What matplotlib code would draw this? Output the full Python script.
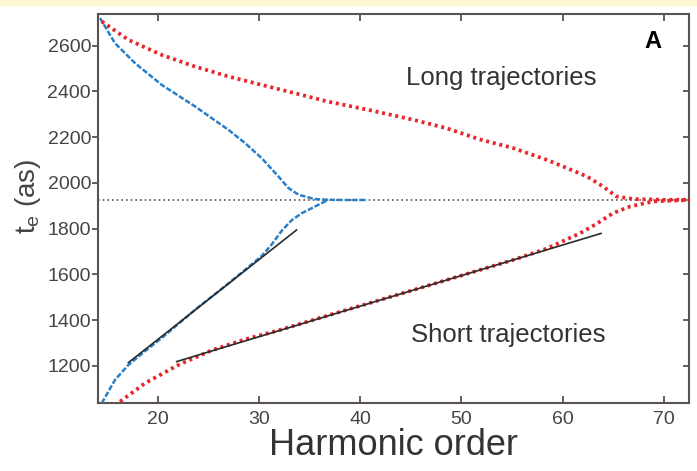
import matplotlib
matplotlib.use("Agg")
import matplotlib.pyplot as plt
from matplotlib.patches import Rectangle

plt.rcParams['font.family'] = ['Liberation Sans', 'DejaVu Sans']
plt.rcParams['mathtext.fontset'] = 'custom'
plt.rcParams['mathtext.rm'] = 'Liberation Sans'

# long trajectories (upper branches)
blue_long_x = [14.27, 15.75, 17.73, 20.37, 23.66, 26.95, 28.6, 30.25, 31.9, 32.9, 33.9, 35.5, 36.8, 38.5, 40.6]
blue_long_y = [2720, 2610, 2523, 2428, 2334, 2232, 2174, 2108, 2028, 1977, 1948, 1929, 1926, 1925, 1925]
red_long_x = [14.44, 17.07, 20.37, 23.66, 26.95, 30.25, 33.5, 36.8, 41.1, 45.2, 48.5, 51.8, 55.1, 58.4,
              60.4, 62.4, 64.0, 65.3, 67.0, 69.9, 72.5]
red_long_y = [2705, 2625, 2559, 2508, 2465, 2428, 2392, 2355, 2316, 2276, 2239, 2190, 2152, 2101,
              2065, 2028, 1984, 1941, 1929, 1926, 1926]

# short trajectories (lower branches)
blue_short_x = [14.44, 15.75, 17.07, 18.7, 20.37, 23.66, 26.95, 30.25, 31.23, 32.22, 33.2, 34.2, 35.5, 36.8]
blue_short_y = [1037, 1139, 1204, 1264, 1322, 1445, 1560, 1680, 1730, 1790, 1836, 1867, 1896, 1925]
red_short_x = [16.25, 18.7, 22.0, 25.3, 28.6, 31.9, 35.2, 38.5, 41.1, 45.2, 48.5, 51.8, 55.1, 58.4,
               61.7, 63.4, 65.0, 66.7, 69.0, 72.5]
red_short_y = [1044, 1124, 1204, 1268, 1316, 1355, 1399, 1443, 1477, 1531, 1575, 1619, 1663, 1712,
               1779, 1822, 1868, 1897, 1919, 1925]

# linear fits
fit1_x = [17.07, 33.7]
fit1_y = [1214, 1794]
fit2_x = [21.85, 63.8]
fit2_y = [1219, 1779]

cutoff_t = 1925

fig = plt.figure(figsize=(6.97, 4.71), dpi=100)
fig.patches.append(Rectangle((0, 0.99), 1, 0.01, transform=fig.transFigure,
                             color='#fcf9d2', zorder=0))
ax = fig.add_axes([0.1406, 0.1444, 0.848, 0.826])

ax.axhline(cutoff_t, color='#5e5050', lw=1.2, ls=(0, (1, 1.8)), zorder=1)
ax.plot(blue_long_x, blue_long_y, color='#2a80c8', lw=1.8, ls=(0, (2.2, 0.8)), zorder=3)
ax.plot(blue_short_x, blue_short_y, color='#2a80c8', lw=1.8, ls=(0, (2.2, 0.8)), zorder=3)
ax.plot(red_long_x, red_long_y, color='#e8262a', lw=2.7, ls=(0, (0.8, 1.0)), zorder=3)
ax.plot(red_short_x, red_short_y, color='#e8262a', lw=2.7, ls=(0, (0.8, 1.0)), zorder=3)
ax.plot(fit1_x, fit1_y, color='#2a2a2a', lw=1.2, zorder=4)
ax.plot(fit2_x, fit2_y, color='#2a2a2a', lw=1.2, zorder=4)

ax.set_xlim(14.07, 72.5)
ax.set_ylim(1038, 2738)
ax.set_xticks([20, 30, 40, 50, 60, 70])
ax.set_yticks([1200, 1400, 1600, 1800, 2000, 2200, 2400, 2600])

for s in ax.spines.values():
    s.set_color('#5a5250')
    s.set_linewidth(1.5)
ax.tick_params(axis='x', direction='in', top=True, length=5, width=1.3, color='#5a5250',
               labelsize=14, labelcolor='#444444', pad=6)
ax.tick_params(axis='y', direction='out', length=4, width=1.3, color='#5a5250',
               labelsize=14, labelcolor='#444444', pad=1)
ax.tick_params(axis='y', which='both', right=True)
for t in ax.yaxis.get_ticklines()[1::2]:
    t.set_marker(matplotlib.lines.TICKLEFT)

ax.set_xlabel('Harmonic order', fontsize=26, color='#333333', labelpad=0)
ax.set_ylabel(r'$\mathregular{t_e}$ (as)', fontsize=20, color='#444444')
ax.yaxis.set_label_coords(-0.093, 0.53)

ax.text(0.683, 0.835, 'Long trajectories', transform=ax.transAxes, fontsize=18.5,
        color='#333333', ha='center', va='center')
ax.text(0.694, 0.175, 'Short trajectories', transform=ax.transAxes, fontsize=18.5,
        color='#333333', ha='center', va='center')
ax.text(0.939, 0.928, 'A', transform=ax.transAxes, fontsize=17, fontweight='bold',
        color='black', ha='center', va='center')

fig.savefig('out.png', dpi=100)
